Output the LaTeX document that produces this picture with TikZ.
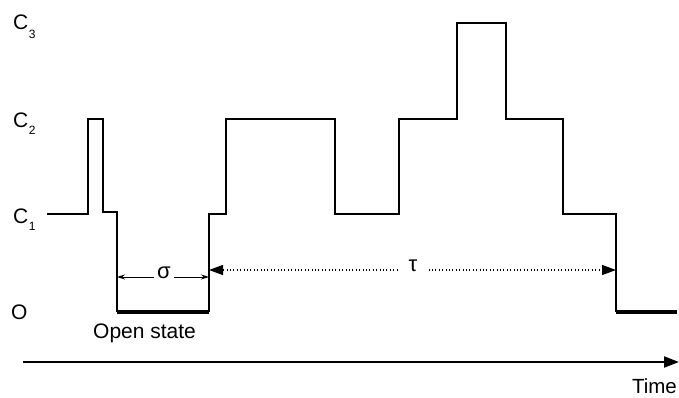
\documentclass[tikz,border=0pt]{standalone}
\usepackage{fontspec}
\setmainfont{Liberation Sans}
\usetikzlibrary{arrows.meta}
\begin{document}
\begin{tikzpicture}[x=1pt,y=-1pt,
  trace/.style={line width=1.1pt, line join=miter},
  openline/.style={line width=3.4pt},
  lbl/.style={font=\fontsize{21}{24}\selectfont, inner sep=0pt, anchor=base west},
  sub/.style={font=\fontsize{12}{12}\selectfont, inner sep=0pt, anchor=base west},
  small/.style={-{Stealth[length=8pt,width=5pt]}, line width=0.9pt},
  dotarrow/.style={-{Triangle[length=14pt,width=10pt]}, line width=1.2pt, dash pattern=on 0.8pt off 2.6pt},
  axis/.style={-{Triangle[length=15pt,width=11pt]}, line width=2pt}]
\useasboundingbox (0,0) rectangle (679,398);

% level labels
\node[lbl] (c3) at (13,30) {C};
\node[sub] (c3s) at (c3.base east) [yshift=-9pt] {3};
\node[lbl] (c2) at (13,128) {C};
\node[sub] (c2s) at (c2.base east) [yshift=-7pt] {2};
\node[lbl] (c1) at (13,223) {C};
\node[sub] (c1s) at (c1.base east) [yshift=-7pt] {1};
\node[lbl] (o) at (11,319) {O};

% trace coordinates
\coordinate (p0) at (47,214);
\coordinate (a1) at (117,312);
\coordinate (a2) at (209,312);
\coordinate (b1) at (616,312);
\coordinate (b2) at (677,312);

\draw[trace] (p0) -- (88,214) -- (88,119) -- (103,119) -- (103,212) -- (117,212) -- (a1);
\draw[trace] (a2) -- (209,214) -- (226,214) -- (226,119) -- (335,119) -- (335,214)
  -- (399,214) -- (399,119) -- (457,119) -- (457,23) -- (506,23) -- (506,119)
  -- (563,119) -- (563,214) -- (616,214) -- (b1);
\draw[openline] (a1) -- (a2);
\draw[openline] (b1) -- (b2);

% sigma
\coordinate (sl) at (117,277);
\coordinate (sr) at (209,277);
\node[font=\fontsize{22}{24}\selectfont, inner sep=1pt] (sigma) at (164,273) {σ};
\draw[small] (sigma.west |- sl) ++(-2,0) -- (sl);
\draw[small] (sigma.east |- sr) ++(2,0) -- (sr);

% tau
\coordinate (tl) at (209,270);
\coordinate (tr) at (616,270);
\node[font=\fontsize{22}{24}\selectfont, inner sep=1pt] (tau) at (413,266) {τ};
\draw[dotarrow] (tau.west |- tl) ++(-10,0) -- (tl);
\draw[dotarrow] (tau.east |- tr) ++(10,0) -- (tr);

% open state label
\node[lbl, font=\fontsize{21}{24}\selectfont] (open) at (93,338) {Open state};

% time axis
\coordinate (t0) at (23,362);
\coordinate (t1) at (679,362);
\draw[axis] (t0) -- (t1);
\node[lbl, font=\fontsize{20.5}{24}\selectfont, anchor=base east] (time) at (677,393) {Time};
\end{tikzpicture}
\end{document}
